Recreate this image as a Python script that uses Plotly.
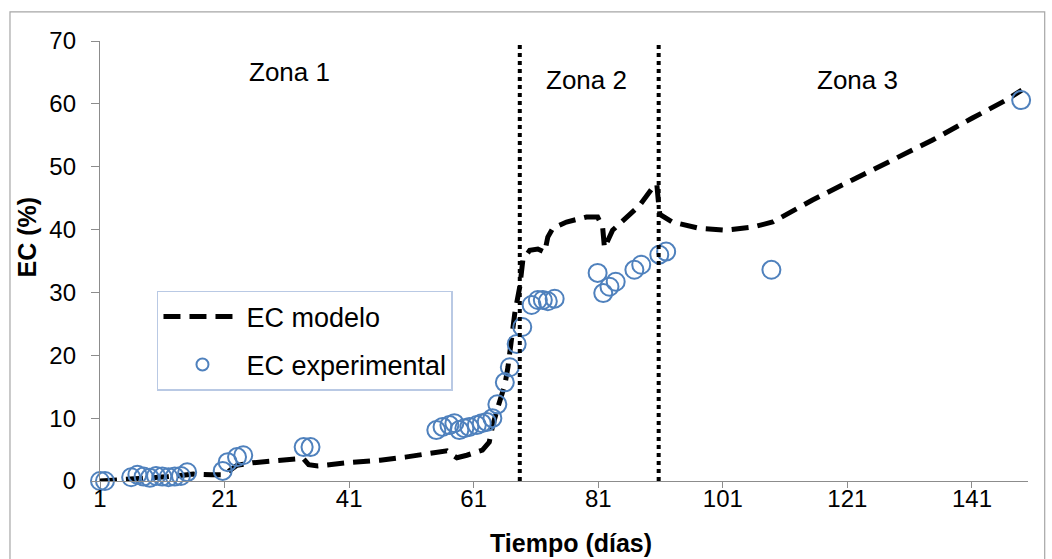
import plotly.graph_objects as go

# Modelled EC curve (day, %)
model_day = [1, 3, 6, 9, 12, 15, 16, 19, 21, 22, 23, 25.5, 30, 33.6, 34.5, 36,
             40.6, 46, 50, 54, 56.7, 57.5, 58.3, 59.9, 61, 62.4, 63.5, 64, 64.9,
             66, 66.5, 67.6, 68.4, 68.9, 70, 71.3, 72.4, 72.9, 73.7, 75.9, 79.1,
             80.9, 81.7, 82, 83.3, 85.5, 87.6, 89.7, 90.4, 90.7, 90.9, 92.9,
             97.2, 101.5, 105.8, 109, 115.4, 121.8, 128.2, 134.6, 141, 146.5, 149]
model_ec = [0.0, 0.1, 0.3, 0.5, 0.7, 1.0, 1.1, 1.0, 1.0, 1.8, 2.5, 2.9, 3.2, 3.6, 2.6, 2.4,
            2.9, 3.3, 3.8, 4.3, 4.8, 4.2, 3.7, 4.1, 4.5, 4.9, 6.2, 8.6, 11.8,
            15.3, 18.1, 26.7, 30.9, 35.2, 36.7, 36.9, 36.4, 38.8, 40.2, 41.2, 42.0,
            42.0, 40.4, 37.1, 39.9, 42.0, 43.8, 46.6, 47.2, 44.0, 42.4, 41.2,
            40.2, 39.9, 40.4, 41.2, 44.7, 47.9, 51.1, 54.2, 57.7, 60.6, 62.2]

# Measured EC (day, %)
exp_day = [1, 1.8, 6, 7, 8, 9, 10, 11, 12, 13, 14, 15, 20.7, 21.5, 23, 24, 33.7, 34.8,
           55, 56, 57.1, 57.9, 58.7, 59.5, 60.3, 61.5, 62.3, 63.1, 64, 64.8, 66,
           66.8, 67.9, 68.8, 70.3, 71.3, 72.1, 72.9, 74.0, 80.9, 81.8, 82.8, 83.8,
           86.8, 87.9, 90.8, 91.9, 108.8, 148.9]
exp_ec = [0.0, 0.0, 0.6, 1.0, 0.7, 0.5, 0.8, 0.7, 0.6, 0.7, 0.8, 1.4, 1.6, 3.0, 3.8, 4.1, 5.4, 5.4,
          8.1, 8.6, 8.9, 9.2, 8.1, 8.4, 8.6, 8.9, 9.2, 9.4, 10.0, 12.2, 15.7,
          18.1, 21.8, 24.5, 28.0, 28.8, 28.8, 28.6, 29.0, 33.1, 29.9, 30.9, 31.7,
          33.6, 34.4, 36.0, 36.5, 33.6, 60.6]

x_ticks = [1, 21, 41, 61, 81, 101, 121, 141]
zone_bounds = [68.4, 90.7]
zone_names = ["Zona 1", "Zona 2", "Zona 3"]
zone_label_x = [31.4, 79.1, 122.6]
zone_label_y = [65.0, 63.8, 63.8]

FONT = "Liberation Sans, Arial, sans-serif"
AXIS_GREY = "#8c8c8c"

fig = go.Figure()

fig.add_trace(go.Scatter(
    x=model_day, y=model_ec, mode="lines", name="EC modelo",
    line=dict(color="black", width=5, dash="17px,9px"),
    cliponaxis=False, legendgroup="m",
))
fig.add_trace(go.Scatter(
    x=exp_day, y=exp_ec, mode="markers", name="EC experimental",
    marker=dict(symbol="circle-open", size=18, color="#4f81bd",
                line=dict(color="#4f81bd", width=2)),
    cliponaxis=False, legendgroup="e",
))

# zone boundaries
for xb in zone_bounds:
    fig.add_shape(type="line", xref="x", yref="y", x0=xb, x1=xb, y0=0, y1=70,
                  line=dict(color="black", width=4, dash="dot"), layer="above")

for name, zx, zy in zip(zone_names, zone_label_x, zone_label_y):
    fig.add_annotation(x=zx, y=zy, xref="x", yref="y", text=name, showarrow=False,
                       font=dict(family=FONT, size=26, color="black"))

# axis titles
fig.add_annotation(x=-0.079, y=0.555, xref="paper", yref="paper", text="<b>EC (%)</b>",
                   textangle=-90, showarrow=False, xanchor="center", yanchor="middle",
                   font=dict(family=FONT, size=25, color="black"))
fig.add_annotation(x=0.5075, y=-0.142, xref="paper", yref="paper",
                   text="<b>Tiempo (días)</b>", showarrow=False,
                   xanchor="center", yanchor="middle",
                   font=dict(family=FONT, size=25, color="black"))

# chart frame
fig.add_shape(type="rect", xref="paper", yref="paper", x0=-0.097, x1=1.018,
              y0=-0.25, y1=1.066, line=dict(color="#a6a6a6", width=1.2), layer="below")

fig.update_layout(
    width=1052, height=559,
    margin=dict(l=100, r=24, t=41, b=78),
    paper_bgcolor="white", plot_bgcolor="white",
    font=dict(family=FONT, size=24, color="black"),
    showlegend=True,
    legend=dict(x=0.0614, y=0.432, xanchor="left", yanchor="top",
                bgcolor="white", bordercolor="#b9c9e4", borderwidth=1.5,
                font=dict(family=FONT, size=27, color="black"),
                itemsizing="constant", itemwidth=78,
                tracegroupgap=10, traceorder="grouped"),
    xaxis=dict(range=[1, 150], tickvals=x_ticks, showgrid=False, zeroline=False,
               showline=True, linecolor=AXIS_GREY, linewidth=1.3,
               ticks="outside", ticklen=6, tickcolor=AXIS_GREY, tickwidth=1.3,
               ticklabelstandoff=-10,
               tickfont=dict(family=FONT, size=24, color="black")),
    yaxis=dict(range=[0, 70], dtick=10, showgrid=False, zeroline=False,
               showline=True, linecolor=AXIS_GREY, linewidth=1.3,
               ticks="outside", ticklen=8, tickcolor=AXIS_GREY, tickwidth=1.3,
               ticklabelstandoff=10,
               tickfont=dict(family=FONT, size=24, color="black")),
)

fig.write_html("out.html")
